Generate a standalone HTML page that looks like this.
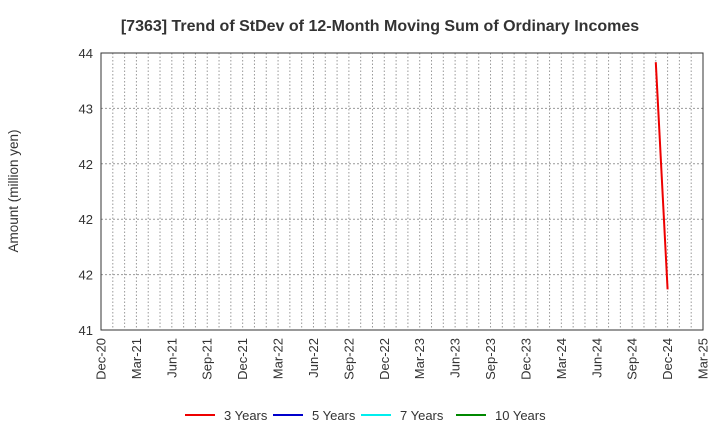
<!DOCTYPE html>
<html><head><meta charset="utf-8"><style>
body{margin:0;background:#fff;font-family:"Liberation Sans",sans-serif;}
svg text{font-family:"Liberation Sans",sans-serif;fill:#333;}
</style></head><body>
<svg width="720" height="440" id="c">
<text x="380" y="31" text-anchor="middle" font-size="16" font-weight="bold">[7363]  Trend of StDev of 12-Month Moving Sum of Ordinary Incomes</text>
<text transform="translate(18,191) rotate(-90)" text-anchor="middle" font-size="13.5">Amount (million yen)</text>
<g id="grid"></g><g id="ax"></g><g id="series"></g>
<rect x="101" y="53" width="602" height="277" fill="none" stroke="#333" stroke-width="1"/>
<g id="legend"></g>
</svg>
<script>
const xLabels=["Dec-20","Mar-21","Jun-21","Sep-21","Dec-21","Mar-22","Jun-22","Sep-22","Dec-22","Mar-23","Jun-23","Sep-23","Dec-23","Mar-24","Jun-24","Sep-24","Dec-24","Mar-25"];
const yTicks=[41,41.6,42.2,42.8,43.4,44];
const yTickLabels=["41","42","42","42","43","44"];
const months3y=[47,48];
const values3y=[43.9,41.44];
const seriesNames=["3 Years","5 Years","7 Years","10 Years"];
const seriesColors=["#e00","#00c","#0ee","#080"];
const NS="http://www.w3.org/2000/svg";
const L=101,R=703,T=53,B=330,NM=51,Y0=41,Y1=44;
const xs=m=>L+(R-L)*m/NM, ys=v=>B-(B-T)*(v-Y0)/(Y1-Y0);
function mk(t,a,p){const e=document.createElementNS(NS,t);for(const k in a)e.setAttribute(k,a[k]);p.appendChild(e);return e;}
const g=document.getElementById('grid'),ax=document.getElementById('ax');
for(let m=1;m<NM;m++){const l=mk('line',{x1:xs(m),x2:xs(m),y1:T,y2:B,stroke:'#999','stroke-dasharray':'1.5,2'},g);

}
yTicks.forEach((v,i)=>{if(i>0&&i<yTicks.length-1){const l=mk('line',{x1:L,x2:R,y1:ys(v),y2:ys(v),stroke:'#999','stroke-dasharray':'2,2'},g);

}
const t=mk('text',{x:L-8,y:ys(v)+5,'text-anchor':'end','font-size':13},ax);t.textContent=yTickLabels[i];

});
xLabels.forEach((s,i)=>{const x=xs(i*3);const t=mk('text',{transform:`translate(${x+4.5},338) rotate(-90)`,'text-anchor':'end','font-size':13},ax);t.textContent=s;

});
const pts=months3y.map((m,i)=>xs(m)+','+ys(values3y[i])).join(' ');
const pl=mk('polyline',{points:pts,fill:'none',stroke:'#e00','stroke-width':2},document.getElementById('series'));


const lg=document.getElementById('legend');const lx=[185,273,361,456];
seriesNames.forEach((n,i)=>{const ln=mk('line',{x1:lx[i],x2:lx[i]+30,y1:415,y2:415,stroke:seriesColors[i],'stroke-width':2},lg);


const t=mk('text',{x:lx[i]+39,y:420,'font-size':13},lg);t.textContent=n;

});
</script>
</body></html>
